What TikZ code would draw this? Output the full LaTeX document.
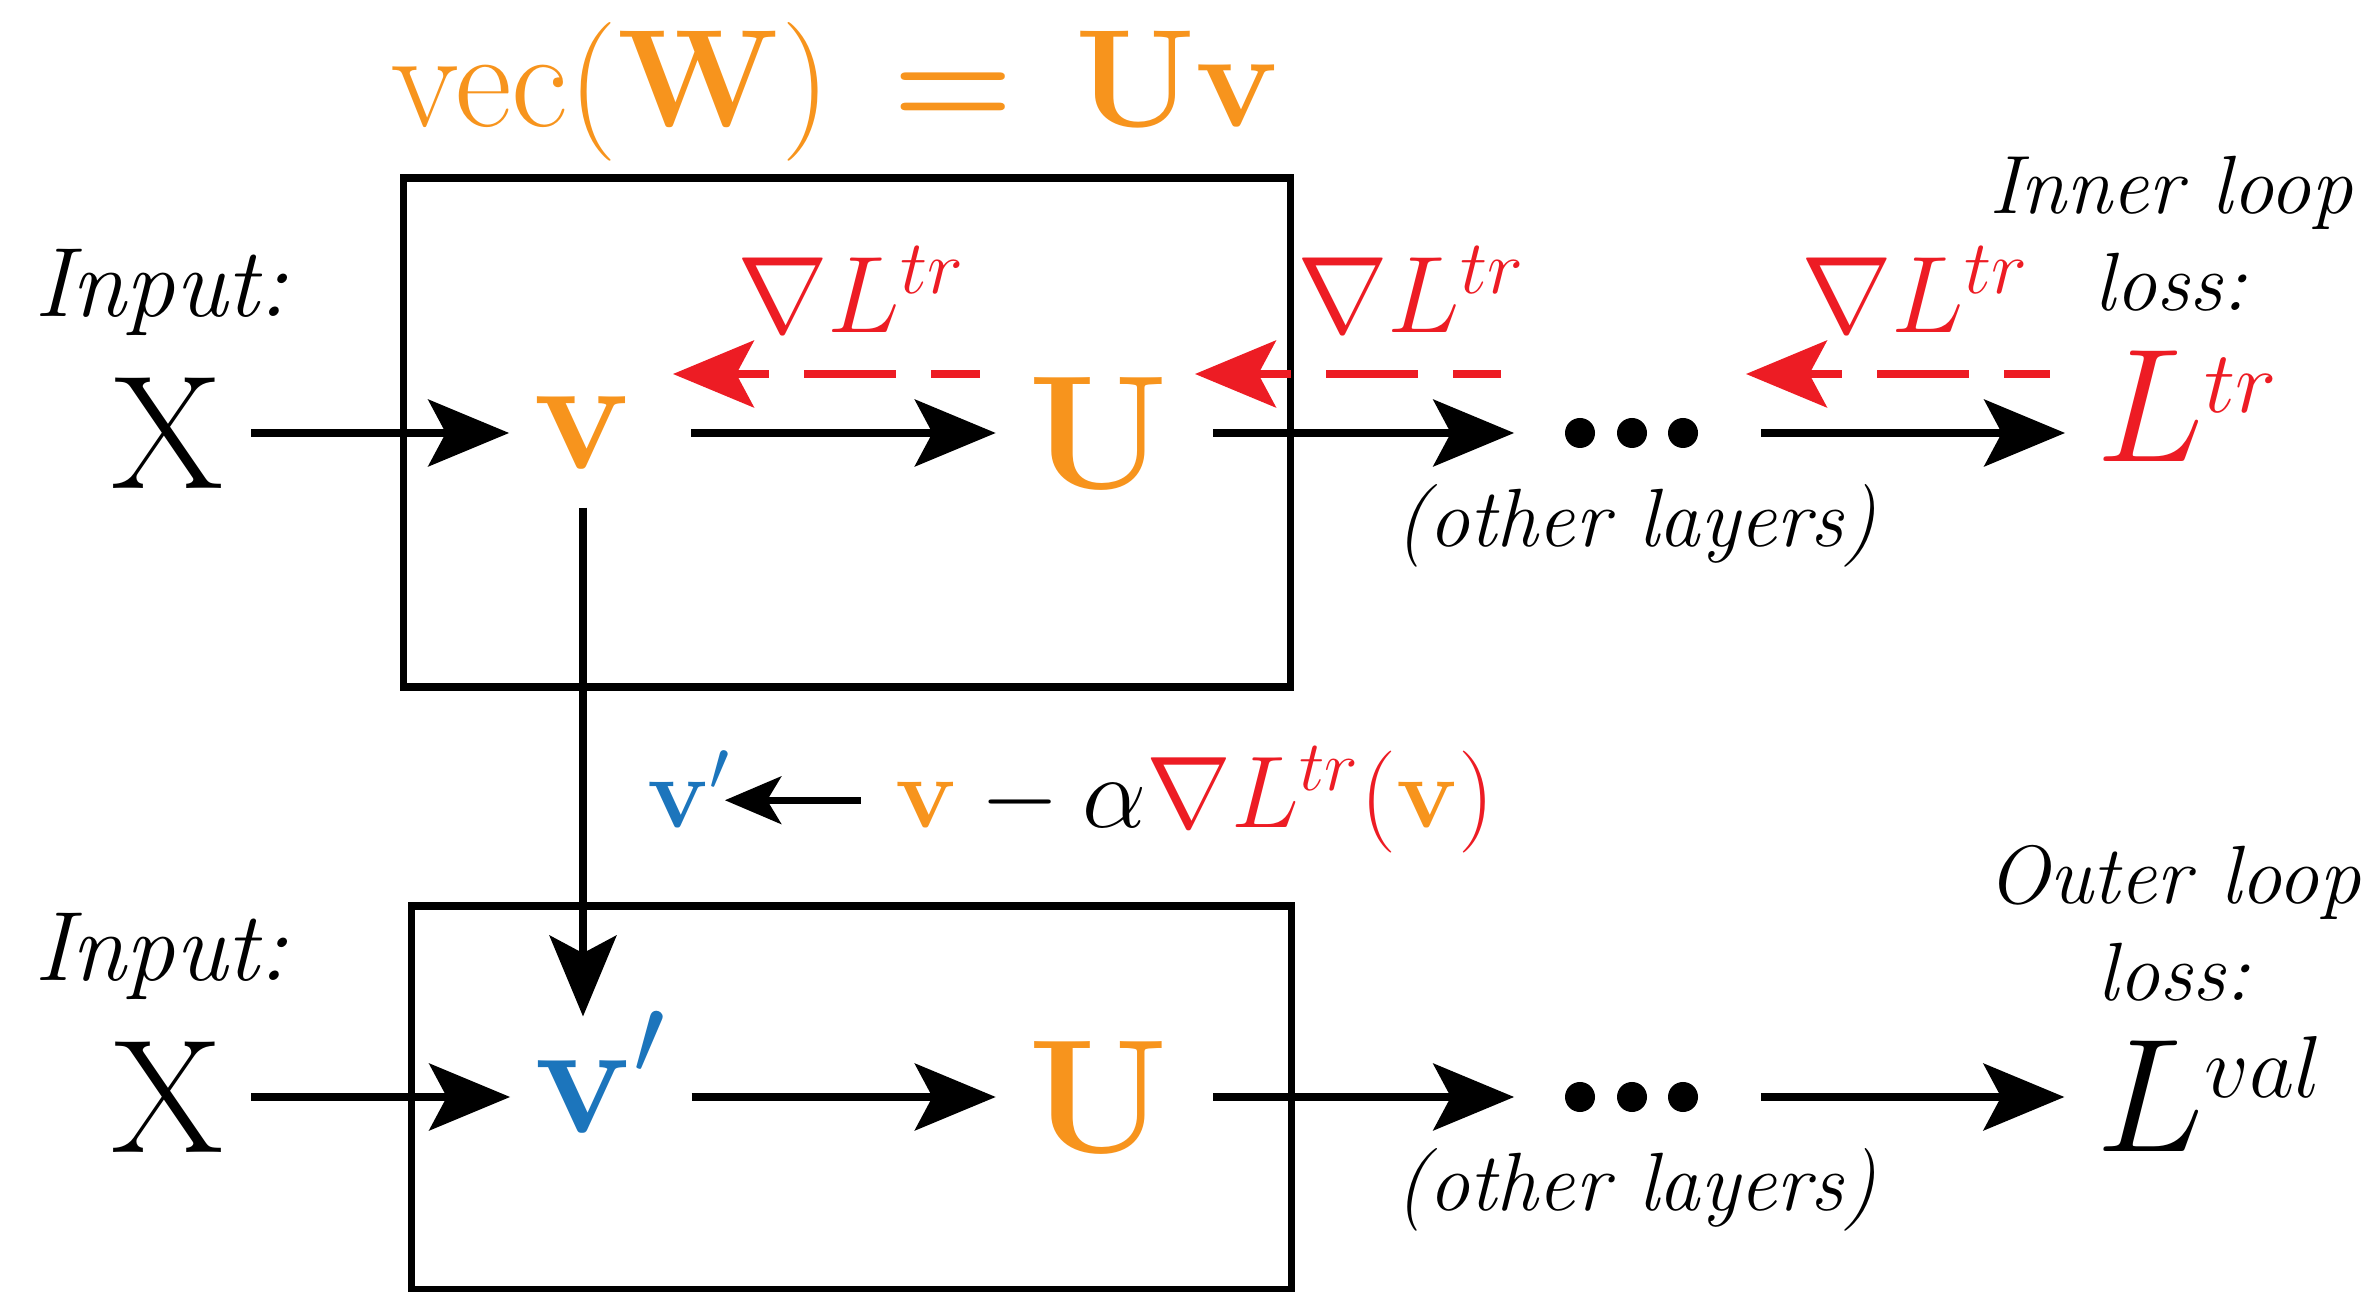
\RequirePackage{fix-cm}
\documentclass[tikz,border=0pt]{standalone}
\usepackage{amsmath}
\usetikzlibrary{arrows.meta}
\definecolor{myorange}{HTML}{F7941D}
\definecolor{myred}{HTML}{ED1C24}
\definecolor{myblue}{HTML}{1C75BC}
\newcommand{\supsm}[2]{\raisebox{#1}{\fontsize{25}{30}\selectfont$#2$}}
\tikzset{
  big/.style={inner sep=0pt, font=\fontsize{46}{55}\selectfont},
  ttl/.style={inner sep=0pt, font=\fontsize{39.5}{47}\selectfont, text=myorange},
  lab/.style={inner sep=0pt, font=\fontsize{28}{34}\selectfont\itshape},
  smalllab/.style={inner sep=0pt, font=\fontsize{23.5}{27.6}\selectfont\itshape},
  grd/.style={inner sep=0pt, font=\fontsize{31}{37}\selectfont, text=myred},
  frm/.style={inner sep=0pt, font=\fontsize{29}{35}\selectfont},
  fwd/.style={line width=2pt, -{Stealth[length=23pt,width=19pt,inset=5pt]}},
  fwdsmall/.style={line width=2pt, -{Stealth[length=16pt,width=13.5pt,inset=4pt]}},
  bwd/.style={line width=2pt, draw=myred, dash pattern=on 26pt off 10pt, dash phase=16pt,
              {Stealth[length=23pt,width=19pt,inset=5pt]}-},
  layerbox/.style={draw, line width=2.1pt, inner sep=0pt},
  dotsbox/.style={inner sep=0pt, minimum width=1.33cm, minimum height=0.3cm},
}
\begin{document}
\begin{tikzpicture}[x=0.01cm, y=-0.01cm]
\useasboundingbox (0,0) rectangle (2372,1292);

% title
\node[ttl, anchor=base] (title) at (836,127)
  {$\mathrm{vec}(\mathbf{W})\mkern3mu\mathrel{\text{\bfseries =}}\mkern3mu\mathbf{U}\mathbf{v}$};

% layer boxes
\node[layerbox, minimum width=8.86cm, minimum height=5.09cm] (box1) at (847,432.5) {};
\node[layerbox, minimum width=8.79cm, minimum height=3.84cm] (box2) at (851.5,1098) {};

% ---- top row ----
\node[lab, anchor=base west] (in1) at (34,317) {Input:};
\node[big] (X1) at (168,433) {X};
\node[big, text=myorange] (v1) at (583,433) {$\mathbf{v}$};
\node[big, text=myorange] (U1) at (1098,433) {$\mathbf{U}$};
\node[dotsbox] (d1) at (1632,433) {};
\node[big, anchor=base west, text=myred] (L1) at (2096,462) {$L$\supsm{14pt}{tr}};
\node[smalllab, anchor=base] (o1) at (1636,547) {(other layers)};
\node[smalllab, anchor=north, align=center] (inner) at (2171,155) {Inner loop\\loss:};

\node[grd, anchor=base] (g1) at (851,333) {$\nabla L^{tr}$};
\node[grd, anchor=base] (g2) at (1411,333) {$\nabla L^{tr}$};
\node[grd, anchor=base] (g3) at (1915,333) {$\nabla L^{tr}$};

% ---- bottom row ----
\node[lab, anchor=base west] (in2) at (34,981) {Input:};
\node[big] (X2) at (168,1097) {X};
\node[big, anchor=west, text=myblue, text height=20.4pt, text depth=0pt] (vp2) at (534,1097) {$\mathbf{v}'$};
\node[big, text=myorange] (U2) at (1098,1097) {$\mathbf{U}$};
\node[dotsbox] (d2) at (1632,1097) {};
\node[big, anchor=base west] (L2) at (2096,1152) {$L$\supsm{15.5pt}{val}};
\node[smalllab, anchor=base] (o2) at (1636,1211) {(other layers)};
\node[smalllab, anchor=north, align=center] (outer) at (2174,845) {Outer loop\\loss:};

% ---- update rule ----
\node[frm, anchor=base west, text=myblue] (vp3) at (647,828) {$\mathbf{v}'$};
\node[frm, anchor=base west] (upd) at (895,828)
  {$\textcolor{myorange}{\mathbf{v}} - \alpha\textcolor{myred}{\nabla L^{tr}(}\textcolor{myorange}{\mathbf{v}}\textcolor{myred}{)}$};
\draw[fwdsmall, shorten <=9.7pt, shorten >=-2pt] (upd.west) -- (upd.west -| vp3.east);

% dots
\foreach \n in {d1,d2}
  \foreach \dx in {-52,0,51}
    \fill (\n.center) ++(\dx,0) circle[radius=0.15cm];

% forward arrows, top
\draw[fwd, shorten <=7.5pt, shorten >=6.8pt] (X1.east) -- (v1.west);
\draw[fwd, shorten <=16.5pt, shorten >=9pt] (v1.east) -- (U1.west);
\draw[fwd, shorten <=12.7pt, shorten >=14.4pt] (U1.east) -- (d1.west);
\draw[fwd, shorten <=17.5pt, shorten >=8.8pt] (d1.east) -- (d1.east -| L1.west);

% forward arrows, bottom
\draw[fwd, shorten <=7.5pt, shorten >=6.8pt] (X2.east) -- (vp2.west);
\draw[fwd, shorten <=7pt, shorten >=9pt] (vp2.east) -- (U2.west);
\draw[fwd, shorten <=12.7pt, shorten >=14.4pt] (U2.east) -- (d2.west);
\draw[fwd, shorten <=17.5pt, shorten >=9pt] (d2.east) -- (d2.east -| L2.west);

% vertical arrow
\draw[fwd, shorten <=10.8pt, shorten >=12.5pt] (v1.south) -- (v1.south |- vp2.north);

% backward gradient arrows
\coordinate (r1a) at (673,374);  \coordinate (r1b) at (980,374);
\coordinate (r2a) at (1195,374); \coordinate (r2b) at (1501,374);
\coordinate (r3a) at (1746,374); \coordinate (r3b) at (2050,374);
\draw[bwd] (r1a) -- (r1b);
\draw[bwd] (r2a) -- (r2b);
\draw[bwd] (r3a) -- (r3b);
\end{tikzpicture}
\end{document}
